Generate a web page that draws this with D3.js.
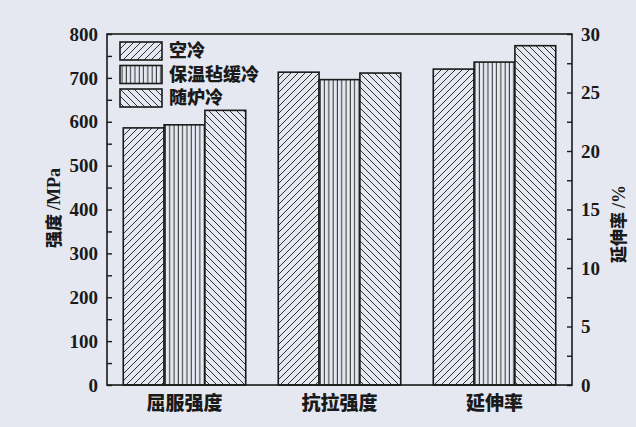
<!DOCTYPE html>
<html>
<head>
<meta charset="utf-8">
<script src="https://cdn.jsdelivr.net/npm/d3@7"></script>
<style>
  body { margin: 0; background: #e5e8f1; }
  svg { display: block; }
</style>
</head>
<body>
<svg id="chart" width="636" height="427"></svg>
<script>
// categories and series
const categories = ["屈服强度", "抗拉强度", "延伸率"];
const seriesNames = ["空冷", "保温毡缓冷", "随炉冷"];
// strength in MPa (left axis), elongation in % (right axis)
const airCooled = [586, 713, 27.0];
const feltCooled = [593, 696, 27.6];
const furnaceCooled = [626, 711, 29.0];
const leftTicks = [0, 100, 200, 300, 400, 500, 600, 700, 800];
const rightTicks = [0, 5, 10, 15, 20, 25, 30];

const svg = d3.select("#chart");
const plotL = 107, plotR = 572, plotT = 34, plotB = 385;
const bg = "#e5e8f1";
const ink = "#1a1a1a";

svg.append("rect").attr("width", 636).attr("height", 427).attr("fill", bg);

// hatch patterns
const defs = svg.append("defs");
function hatch(id, size, path) {
    const p = defs.append("pattern")
        .attr("id", id)
        .attr("patternUnits", "userSpaceOnUse")
        .attr("width", size).attr("height", size);
    p.append("rect").attr("width", size).attr("height", size).attr("fill", bg);
    p.append("path").attr("d", path).attr("stroke", ink).attr("stroke-width", 0.9).attr("fill", "none");
}
hatch("h0", 7, "M-1,8 L8,-1 M-1,1 L1,-1 M6,8 L8,6");
hatch("h1", 4.3, "M2,0 L2,4.3");
hatch("h2", 7, "M-1,-1 L8,8 M6,-1 L8,1 M-1,6 L1,8");
const fills = ["url(#h0)", "url(#h1)", "url(#h2)"];

const x0 = d3.scaleBand().domain(categories).range([plotL, plotR]).paddingInner(0.21).paddingOuter(0.105);
const x1 = d3.scaleBand().domain(seriesNames).range([0, x0.bandwidth()]);
const yL = d3.scaleLinear().domain([0, 800]).range([plotB, plotT]);
const yR = d3.scaleLinear().domain([0, 30]).range([plotB, plotT]);

const rows = [];
categories.forEach((c, i) => {
    [airCooled, feltCooled, furnaceCooled].forEach((arr, j) => {
        rows.push({cat: c, s: seriesNames[j], j: j, v: arr[i], scale: i === 2 ? yR : yL});
    });
});

svg.selectAll(".bar")
    .data(rows)
    .enter()
    .append("rect")
    .attr("class", "bar")
    .attr("x", d => x0(d.cat) + x1(d.s))
    .attr("y", d => d.scale(d.v))
    .attr("width", x1.bandwidth())
    .attr("height", d => plotB - d.scale(d.v))
    .attr("fill", d => fills[d.j])
    .attr("stroke", ink)
    .attr("stroke-width", 1.6);

// axes (ticks inward, minor ticks every half step)
const serif = "Liberation Serif, DejaVu Serif, serif";
const cjk = "Noto Sans CJK SC, sans-serif";
const leftAxis = svg.append("g").attr("transform", `translate(${plotL},0)`)
    .call(d3.axisRight(yL).tickValues(d3.range(0, 801, 50)).tickSize(5).tickFormat(""));
const rightAxis = svg.append("g").attr("transform", `translate(${plotR},0)`)
    .call(d3.axisLeft(yR).tickValues(d3.range(0, 30.1, 2.5)).tickSize(5).tickFormat(""));
[leftAxis, rightAxis].forEach(a => {
    a.select(".domain").remove();
    a.selectAll("line").attr("stroke", ink).attr("stroke-width", 1.4);
});

function label(sel) {
    return sel.attr("font-family", serif).attr("font-weight", "bold")
        .attr("font-size", 19).attr("fill", ink);
}
svg.append("g").selectAll("text").data(leftTicks).enter().append("text")
    .attr("x", plotL - 9).attr("y", d => yL(d)).attr("dy", "0.35em")
    .attr("text-anchor", "end")
    .call(label)
    .text(d => d);
svg.append("g").selectAll("text").data(rightTicks).enter().append("text")
    .attr("x", plotR + 9).attr("y", d => yR(d)).attr("dy", "0.35em")
    .attr("text-anchor", "start")
    .call(label)
    .text(d => d);

// frame
svg.append("rect")
    .attr("x", plotL).attr("y", plotT)
    .attr("width", plotR - plotL).attr("height", plotB - plotT)
    .attr("fill", "none").attr("stroke", ink).attr("stroke-width", 1.6);

// category labels
svg.append("g").selectAll("text").data(categories).enter().append("text")
    .attr("x", d => x0(d) + x0.bandwidth() / 2)
    .attr("y", 410)
    .attr("text-anchor", "middle")
    .attr("font-family", cjk).attr("font-weight", 900).attr("font-size", 19).attr("fill", ink)
    .text(d => d);

// axis titles: CJK part + serif unit
function axisTitle(x, y, zh, unit) {
    const t = svg.append("text")
        .attr("transform", `translate(${x},${y}) rotate(-90)`)
        .attr("text-anchor", "middle")
        .attr("fill", ink).attr("font-weight", "bold");
    t.append("tspan").attr("font-family", cjk).attr("font-weight", 900).attr("font-size", 17).text(zh + " ");
    t.append("tspan").attr("font-family", serif).attr("font-size", 18).text(unit);
}
axisTitle(60, 208, "强度", "/MPa");
axisTitle(625, 224, "延伸率", "/%");

// legend
const legend = svg.append("g").attr("transform", "translate(120,42)");
const item = legend.selectAll("g").data(seriesNames).enter().append("g")
    .attr("transform", (d, i) => `translate(0,${i * 23.5})`);
item.append("rect")
    .attr("width", 42).attr("height", 18)
    .attr("fill", (d, i) => fills[i])
    .attr("stroke", ink).attr("stroke-width", 1.6);
item.append("text")
    .attr("x", 49).attr("y", 9).attr("dy", "0.36em")
    .attr("font-family", cjk).attr("font-weight", 900).attr("font-size", 18).attr("fill", ink)
    .text(d => d);
</script>
</body>
</html>
